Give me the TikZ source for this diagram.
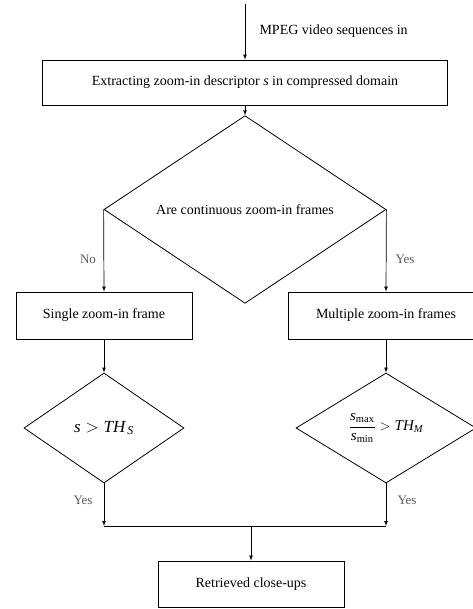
\documentclass[tikz,border=0pt]{standalone}
\usepackage{fontspec}
\setmainfont{Liberation Serif}
\usepackage{amsmath}
\usetikzlibrary{arrows,calc,positioning,shapes.geometric}

\begin{document}
\begin{tikzpicture}[x=1pt,y=-1pt,>=latex,
		box/.style={draw,rectangle,line width=.8pt,inner sep=0pt,font=\fontsize{14}{16}\selectfont},
		decide/.style={draw,diamond,line width=.8pt,inner sep=0pt,font=\fontsize{14}{16}\selectfont},
		lbl/.style={font=\fontsize{13}{15}\selectfont,text=black!65},
		link/.style={->,line width=.7pt}]
				\useasboundingbox (0,0) rectangle (472,609);
				% boxes and tests
				\coordinate (in) at (245,4);
				\node[font=\fontsize{14}{16}\selectfont,anchor=west] (mpeg) at (256,31) {MPEG video sequences in};
				\node[box,minimum width=405pt,minimum height=45pt] (extract) at (245,82.5) {Extracting zoom-in descriptor \textit{s} in compressed domain};
				\node[decide,minimum width=282pt,minimum height=135pt] (cont) at (245,209.5) {Are continuous zoom-in frames};
				\node[box,minimum width=176pt,minimum height=47pt] (single) at (104,315.5) {Single zoom-in frame};
				\node[box,minimum width=196pt,minimum height=47pt] (multi) at (386,315.5) {Multiple zoom-in frames};
				\node[decide,minimum width=160pt,minimum height=110pt,font=\fontsize{17}{19}\selectfont] (sth) at (104,428) {$\textit{s} > \textit{TH}_{\,\textit{S}}$};
				\node[decide,minimum width=180pt,minimum height=110pt,font=\fontsize{15}{17}\selectfont] (ratio) at (386,428) {$\dfrac{\textit{s}_{\textrm{max}}}{\textit{s}_{\textrm{min}}} > \textit{TH}_{\textit{M}}$};
				\node[box,minimum width=186pt,minimum height=46pt] (out) at (251,584) {Retrieved close-ups};
				% labels
				\node[lbl] (no) at (88,259) {No};
				\node[lbl] (yesc) at (405,259) {Yes};
				\node[lbl] (yess) at (83,500) {Yes};
				\node[lbl] (yesr) at (407,500) {Yes};
				% joins
				\coordinate (jl) at (104,526);
				\coordinate (jr) at (386,526);
				\coordinate (jm) at (251,526);
				% arrows
				\draw[link] (in) -- (extract.north);
				\draw[link] (extract.south) -- (cont.north);
				\draw[link] (cont.west) -- (single.north);
				\draw[link] (cont.east) -- (multi.north);
				\draw[link] (single.south) -- (sth.north);
				\draw[link] (multi.south) -- (ratio.north);
				\draw[link] (sth.south) -- (jl);
				\draw[link] (ratio.south) -- (jr);
				\draw[-,line width=.7pt] (jl) -- (jr);
				\draw[link] (jm) -- (out.north);
	\end{tikzpicture}
\end{document}
